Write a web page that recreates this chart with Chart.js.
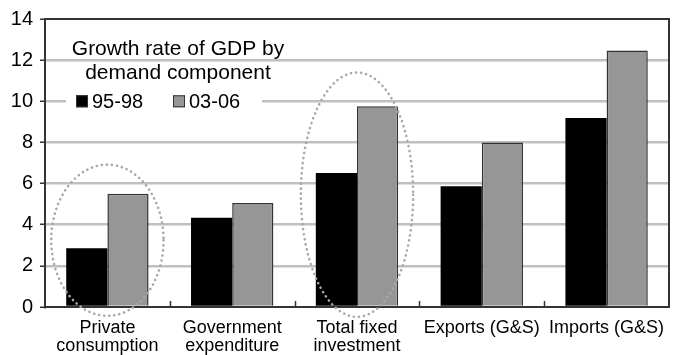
<!DOCTYPE html>
<html>
<head>
<meta charset="utf-8">
<script src="https://cdn.jsdelivr.net/npm/chart.js@4.4.1/dist/chart.umd.min.js"></script>
<style>
    html, body { margin: 0; padding: 0; background: #fff; }
    canvas { display: block; }
</style>
</head>
<body>
<canvas id="gdpChart" width="674" height="355"></canvas>
<script>
(function() {
    'use strict';

    // Demand components and growth rates (%)
    const categories = [
        ['Private', 'consumption'],
        ['Government', 'expenditure'],
        ['Total fixed', 'investment'],
        'Exports (G&S)',
        'Imports (G&S)'
    ];
    const seriesLabels = ['95-98', '03-06'];
    const growth9598 = [2.85, 4.34, 6.51, 5.87, 9.19];
    const growth0306 = [5.50, 5.05, 9.76, 8.00, 12.47];
    const yTicks = [0, 2, 4, 6, 8, 10, 12, 14];
    const titleLines = ['Growth rate of GDP by', 'demand component'];

    // Dotted ovals around selected components (value span in axis units)
    const highlightIndex = [0, 2];
    const highlightTop = [6.92, 11.4];
    const highlightBottom = [-0.43, -0.48];

    const colors = {
        dark: '#000000',
        grey: '#969696',
        outline: '#333333',
        grid: '#c0c0c0',
        dots: '#a8a8a8'
    };

    const fontFamily = '"Liberation Sans", Arial, sans-serif';

    /**
     * Plot frame, inward category ticks, dotted ovals, title and legend
     */
    const decorations = {
        id: 'decorations',
        afterDraw(chart) {
            const ctx = chart.ctx;
            const area = chart.chartArea;
            const x = chart.scales.x;
            const y = chart.scales.y;
            const band = (area.right - area.left) / categories.length;

            ctx.save();

            // top and right edges of the frame
            ctx.strokeStyle = colors.outline;
            ctx.lineWidth = 2;
            ctx.beginPath();
            ctx.moveTo(area.left, area.top);
            ctx.lineTo(area.right, area.top);
            ctx.lineTo(area.right, area.bottom);
            ctx.stroke();

            // short ticks between categories, pointing up
            ctx.lineWidth = 1.5;
            for (let i = 1; i < categories.length; i++) {
                const px = Math.round((x.getPixelForValue(i - 1) + x.getPixelForValue(i)) / 2) + 0.5;
                ctx.beginPath();
                ctx.moveTo(px, area.bottom);
                ctx.lineTo(px, area.bottom - 6);
                ctx.stroke();
            }

            // dotted ovals
            ctx.strokeStyle = colors.dots;
            ctx.lineWidth = 2.6;
            ctx.lineCap = 'round';
            ctx.setLineDash([0.1, 5]);
            highlightIndex.forEach((idx, k) => {
                const top = y.getPixelForValue(highlightTop[k]);
                const bottom = y.getPixelForValue(highlightBottom[k]);
                ctx.beginPath();
                ctx.ellipse(x.getPixelForValue(idx), (top + bottom) / 2,
                    band * 0.45, (bottom - top) / 2, 0, 0, Math.PI * 2);
                ctx.stroke();
            });
            ctx.setLineDash([]);

            // title over the plot
            ctx.fillStyle = '#000';
            ctx.font = '21px ' + fontFamily;
            ctx.textAlign = 'center';
            ctx.textBaseline = 'middle';
            ctx.fillText(titleLines[0], area.left + 133, area.top + 30);
            ctx.fillText(titleLines[1], area.left + 133, area.top + 54);

            // legend on a white box
            const ly = y.getPixelForValue(10);
            ctx.fillStyle = '#fff';
            ctx.fillRect(area.left + 21, ly - 11, 196, 22);
            ctx.font = '20px ' + fontFamily;
            ctx.textAlign = 'left';
            const fills = [colors.dark, colors.grey];
            const offsets = [31, 128];
            seriesLabels.forEach((label, k) => {
                const sx = area.left + offsets[k];
                ctx.fillStyle = fills[k];
                ctx.fillRect(sx, ly - 6, 12, 12);
                ctx.strokeStyle = colors.outline;
                ctx.lineWidth = 1;
                ctx.strokeRect(sx + 0.5, ly - 5.5, 11, 11);
                ctx.fillStyle = '#000';
                ctx.fillText(label, sx + 16, ly + 1);
            });

            ctx.restore();
        }
    };

    new Chart(document.getElementById('gdpChart'), {
        type: 'bar',
        data: {
            labels: categories,
            datasets: [{
                label: seriesLabels[0],
                data: growth9598,
                backgroundColor: colors.dark,
                borderWidth: 0
            }, {
                label: seriesLabels[1],
                data: growth0306,
                backgroundColor: colors.grey,
                borderColor: colors.outline,
                borderWidth: 1.5
            }]
        },
        options: {
            responsive: false,
            animation: false,
            datasets: {
                bar: {
                    categoryPercentage: 0.66,
                    barPercentage: 1.0
                }
            },
            layout: {
                padding: { top: 16, right: 5, left: 0, bottom: 0 }
            },
            plugins: {
                legend: { display: false },
                tooltip: { enabled: false }
            },
            scales: {
                x: {
                    grid: { display: false },
                    border: { color: colors.outline, width: 2 },
                    ticks: {
                        color: '#000',
                        padding: 4,
                        maxRotation: 0,
                        autoSkip: false,
                        font: { family: fontFamily, size: 18, lineHeight: 1.0 }
                    },
                    afterFit(scale) { scale.height = 48; }
                },
                y: {
                    min: yTicks[0],
                    max: yTicks[yTicks.length - 1],
                    afterBuildTicks(scale) {
                        scale.ticks = yTicks.map(v => ({ value: v }));
                    },
                    grid: {
                        color: c => (c.tick && (c.tick.value === 0 || c.tick.value === 14)) ? 'rgba(0,0,0,0)' : colors.grid,
                        lineWidth: 2.5,
                        tickLength: 5,
                        tickColor: colors.outline,
                        tickWidth: 1.5
                    },
                    border: { color: colors.outline, width: 2 },
                    ticks: {
                        color: '#000',
                        padding: 7,
                        font: { family: fontFamily, size: 20 }
                    },
                    afterFit(scale) { scale.width = 45; }
                }
            }
        },
        plugins: [decorations]
    });
})();
</script>
</body>
</html>
